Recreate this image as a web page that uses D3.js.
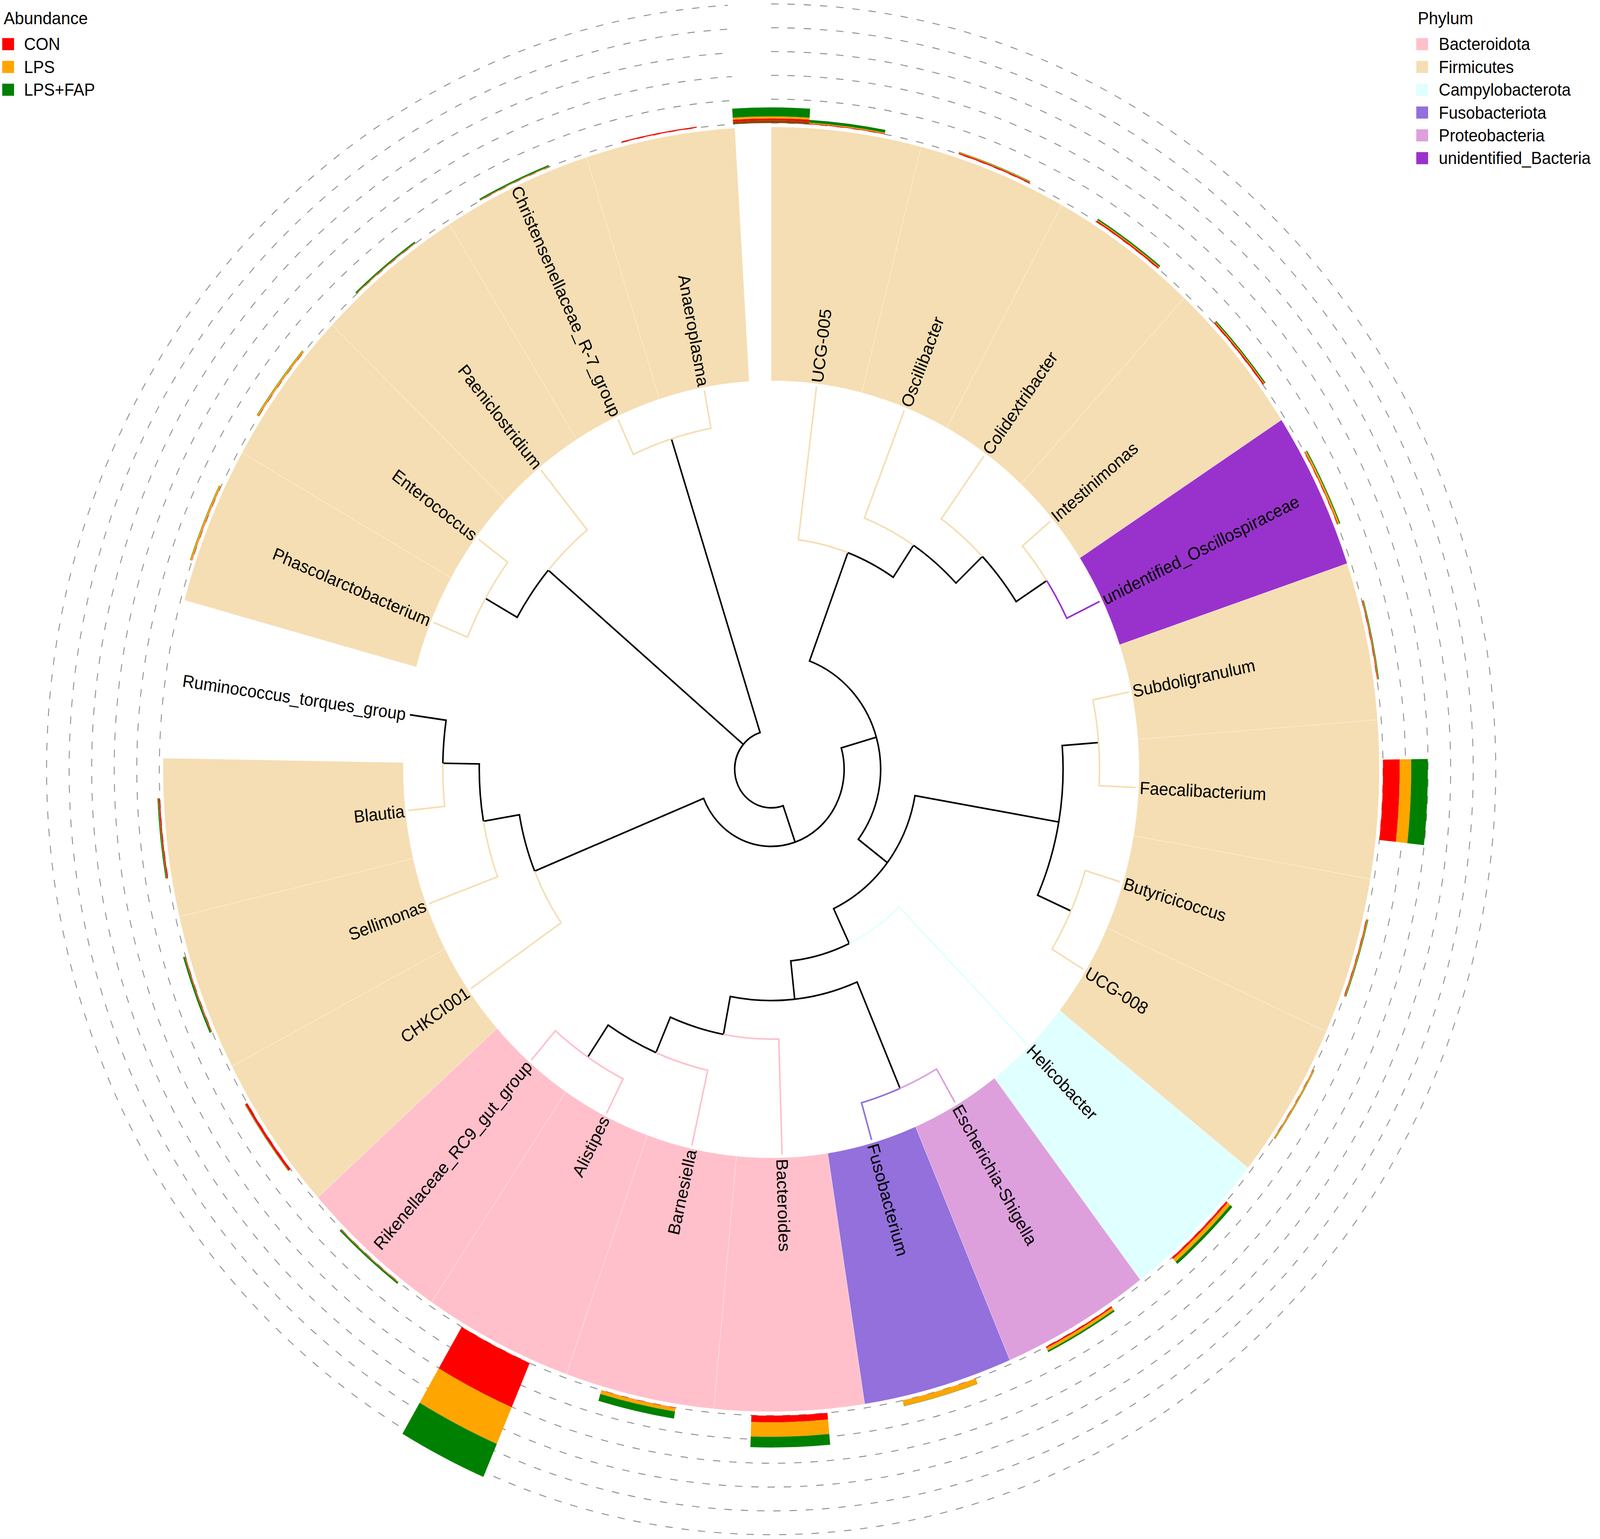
<!DOCTYPE html>
<html><head><meta charset="utf-8">
<script src="https://cdn.jsdelivr.net/npm/d3@7"></script>
<style>
html,body{margin:0;padding:0;width:100%;height:100%;overflow:hidden;background:#fff}
svg{display:block;width:100vw;height:100vh}
</style>
</head><body>
<svg id="chart" viewBox="0 0 4328 3941" preserveAspectRatio="none"></svg>
<script>
// ---------------- DATA ----------------
const genera = ["UCG-005","Oscillibacter","Colidextribacter","Intestinimonas","unidentified_Oscillospiraceae",
  "Subdoligranulum","Faecalibacterium","Butyricicoccus","UCG-008","Helicobacter","Escherichia-Shigella",
  "Fusobacterium","Bacteroides","Barnesiella","Alistipes","Rikenellaceae_RC9_gut_group","CHKCI001",
  "Sellimonas","Blautia","Ruminococcus_torques_group","Phascolarctobacterium","Enterococcus",
  "Paeniclostridium","Christensenellaceae_R-7_group","Anaeroplasma"];
const phylumOf = ["Firmicutes","Firmicutes","Firmicutes","Firmicutes","unidentified_Bacteria",
  "Firmicutes","Firmicutes","Firmicutes","Firmicutes","Campylobacterota","Proteobacteria",
  "Fusobacteriota","Bacteroidota","Bacteroidota","Bacteroidota","Bacteroidota","Firmicutes",
  "Firmicutes","Firmicutes",null,"Firmicutes","Firmicutes","Firmicutes","Firmicutes","Firmicutes"];
const phyla = ["Bacteroidota","Firmicutes","Campylobacterota","Fusobacteriota","Proteobacteria","unidentified_Bacteria"];
const groups = ["CON","LPS","LPS+FAP"];
// mean relative abundance (%) per genus and group
const conValues = [0.3,0.5,0.6,0.6,0.3,0.3,7.4,0.3,0.15,0.8,0.6,0.05,2.8,0.15,20.2,0.15,1.0,0.3,0.5,0,0.15,0.15,0.15,0.15,0.45];
const lpsValues = [0.35,0.3,0.35,0.35,0.7,0.3,5.1,0.35,0.5,1.6,1.2,2.3,6.1,1.5,16.7,0.15,0.15,0.15,0.15,0,0.7,0.7,0.15,0.15,0.03];
const fapValues = [1.2,0.2,0.6,0.5,0.4,0.3,7.4,0.3,0.15,1.2,0.7,0.1,4.5,3.0,15.1,0.7,0.15,0.7,0.45,0,0.15,0.15,0.6,0.6,0.03];
// unlabelled stacked bar drawn at the start slot of the ring
const extraLayers = ["overlap","CON","LPS","LPS+FAP"];
const extraValues = [1.1,0.84,0.84,3.77];
const gridTicks = [0,10,20,30,40,50];
const newick = "((((UCG-005,(Oscillibacter,(Colidextribacter,(Intestinimonas,unidentified_Oscillospiraceae)))),(((Subdoligranulum,Faecalibacterium),(Butyricicoccus,UCG-008)),(Helicobacter,((Escherichia-Shigella,Fusobacterium),(Bacteroides,(Barnesiella,(Alistipes,Rikenellaceae_RC9_gut_group))))))),(CHKCI001,(Sellimonas,(Blautia,Ruminococcus_torques_group)))),((Phascolarctobacterium,Enterococcus),Paeniclostridium),(Christensenellaceae_R-7_group,Anaeroplasma));";

// ---------------- STYLE ----------------
const phylumColor = d3.scaleOrdinal().domain(phyla)
  .range(["#FFC0CB","#F5DEB3","#E0FFFF","#9370DB","#DDA0DD","#9932CC"]);
const groupColor = d3.scaleOrdinal().domain(["overlap"].concat(groups))
  .range(["#83470a","#FF0000","#FFA500","#008000"]);
const FONT = "'Liberation Sans', Arial, Helvetica, sans-serif";

const W = 4328, H = 3941, cx = 2086, cy = 1970;
const svg = d3.select("#chart");
svg.append("rect").attr("width", W).attr("height", H).attr("fill", "#fff");
const g = svg.append("g").attr("transform", `translate(${cx},${cy})`);

// scales
const theta = d3.scaleLinear().domain([0.5, 25.74]).range([0, 2 * Math.PI]);
const rTree = d3.scaleLinear().domain([0, 10]).range([0, 987]);
const rBar = d3.scaleLinear().domain([0, 50]).range([1655, 1960]);
const WEDGE_IN = 995, WEDGE_OUT = 1645, LABEL_R = 998;

// ---------------- TREE ----------------
function parseNewick(s) {
  let i = 0;
  function node() {
    const n = { name: "", children: [] };
    if (s[i] === "(") {
      i++;
      n.children.push(node());
      while (s[i] === ",") { i++; n.children.push(node()); }
      i++;
    }
    let name = "";
    while (i < s.length && !"(),;".includes(s[i])) name += s[i++];
    n.name = name;
    if (!n.children.length) delete n.children;
    return n;
  }
  return node();
}
const root = d3.hierarchy(parseNewick(newick));
root.eachAfter(d => {
  if (!d.children) { d.yv = genera.indexOf(d.data.name) + 1; d.level = 10; }
  else { d.yv = d3.mean(d.children, c => c.yv); d.level = d3.min(d.children, c => c.level) - 1; }
});
const pt = (r, a) => [r * Math.sin(a), -r * Math.cos(a)];

// wedges (phylum highlight)
const leafIdx = d3.range(genera.length);
const wedgeArc = d3.arc().innerRadius(WEDGE_IN).outerRadius(WEDGE_OUT);
g.append("g").selectAll("path")
  .data(leafIdx.filter(i => phylumOf[i]))
  .join("path")
  .attr("d", i => wedgeArc({ startAngle: theta(i + 0.5), endAngle: theta(i + 1.5) }))
  .attr("fill", i => phylumColor(phylumOf[i]))
  .attr("stroke", "#ffffff").attr("stroke-opacity", 0.45).attr("stroke-width", 1.2);

// branches
function edgePath(p, c) {
  const rp = rTree(p.level), rc = rTree(c.level);
  const ap = theta(p.yv), ac = theta(c.yv);
  const path = d3.path();
  const s = pt(rp, ap);
  path.moveTo(s[0], s[1]);
  path.arc(0, 0, rp, ap - Math.PI / 2, ac - Math.PI / 2, ac < ap);
  const e = pt(rc, ac);
  path.lineTo(e[0], e[1]);
  return path.toString();
}
const links = root.links();
const edgeColor = l => {
  if (l.target.children) return "#000";
  const ph = phylumOf[l.target.yv - 1];
  return ph ? phylumColor(ph) : "#000";
};
g.append("g").selectAll("path")
  .data(links.sort((a, b) => (edgeColor(a) === "#000" ? 0 : 1) - (edgeColor(b) === "#000" ? 0 : 1)))
  .join("path")
  .attr("d", l => edgePath(l.source, l.target))
  .attr("fill", "none")
  .attr("stroke", edgeColor)
  .attr("stroke-width", 4.2)
  .attr("stroke-linejoin", "miter");

// tip labels
g.append("g").selectAll("text")
  .data(root.leaves())
  .join("text")
  .attr("transform", d => {
    const deg = theta(d.yv) * 180 / Math.PI;
    return `rotate(${deg - 90}) translate(${LABEL_R},0)` + (deg > 180 ? " rotate(180)" : "");
  })
  .attr("text-anchor", d => theta(d.yv) > Math.PI ? "end" : "start")
  .attr("dominant-baseline", "central")
  .attr("font-family", FONT).attr("font-size", 45).attr("fill", "#000")
  .text(d => d.data.name);

// ---------------- BAR RING ----------------
g.append("g").selectAll("path")
  .data(gridTicks)
  .join("path")
  .attr("d", t => {
    const p = d3.path();
    p.arc(0, 0, rBar(t), theta(0.5) - Math.PI / 2, theta(25.5) - Math.PI / 2, false);
    return p.toString();
  })
  .attr("fill", "none").attr("stroke", "#8f8f8f").attr("stroke-width", 2.4)
  .attr("stroke-dasharray", "20 24");

const segs = [];
leafIdx.forEach(i => {
  const vals = [conValues[i], lpsValues[i], fapValues[i]];
  let cum = 0;
  vals.forEach((v, j) => { if (v > 0) segs.push({ y: i + 1, lo: cum, hi: cum + v, grp: groups[j] }); cum += v; });
});
{
  let cum = 0;
  extraValues.forEach((v, j) => { segs.push({ y: 0.5, lo: cum, hi: cum + v, grp: extraLayers[j] }); cum += v; });
}
const barArc = d3.arc();
g.append("g").selectAll("path")
  .data(segs)
  .join("path")
  .attr("d", s => barArc({ innerRadius: rBar(s.lo), outerRadius: rBar(s.hi),
    startAngle: theta(s.y - 0.25), endAngle: theta(s.y + 0.25) }))
  .attr("fill", s => groupColor(s.grp));

// ---------------- LEGENDS ----------------
function legend(x, title, keys, colorFn, textX) {
  const lg = svg.append("g");
  lg.append("text").attr("x", x + 4).attr("y", 62).attr("font-family", FONT)
    .attr("font-size", 45).attr("fill", "#000").text(title);
  const it = lg.selectAll("g.it").data(keys).join("g")
    .attr("transform", (d, i) => `translate(0,${113 + i * 58.4})`);
  it.append("rect").attr("x", x).attr("y", -15.5).attr("width", 32).attr("height", 31)
    .attr("fill", d => colorFn(d));
  it.append("text").attr("x", textX).attr("y", 0).attr("dominant-baseline", "central")
    .attr("font-family", FONT).attr("font-size", 44).attr("fill", "#000").text(d => d);
}
legend(6, "Abundance", groups, d => groupColor(d), 65);
legend(3831, "Phylum", phyla, d => phylumColor(d), 3892);
</script>
</body></html>
